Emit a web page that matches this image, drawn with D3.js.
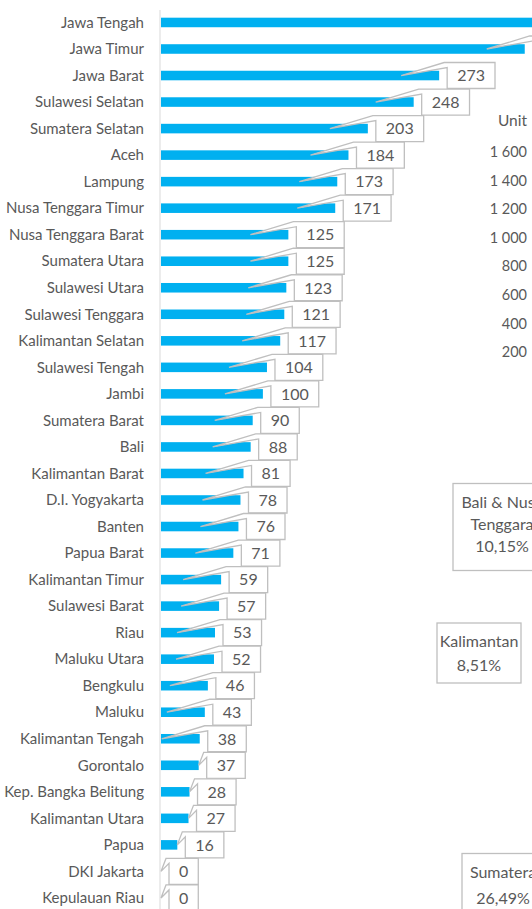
<!DOCTYPE html>
<html>
<head>
<meta charset="utf-8">
<script src="https://cdn.jsdelivr.net/npm/d3@7"></script>
<style>
  html, body { margin: 0; padding: 0; background: #fff; }
  svg { display: block; font-family: Lato, "Open Sans", sans-serif; }
</style>
</head>
<body>
<div id="chart"></div>
<script>
////////////////////////////////////////////////////////////////////////
// Data

let provinces = ["Jawa Tengah", "Jawa Timur", "Jawa Barat", "Sulawesi Selatan", "Sumatera Selatan",
  "Aceh", "Lampung", "Nusa Tenggara Timur", "Nusa Tenggara Barat", "Sumatera Utara",
  "Sulawesi Utara", "Sulawesi Tenggara", "Kalimantan Selatan", "Sulawesi Tengah", "Jambi",
  "Sumatera Barat", "Bali", "Kalimantan Barat", "D.I. Yogyakarta", "Banten", "Papua Barat",
  "Kalimantan Timur", "Sulawesi Barat", "Riau", "Maluku Utara", "Bengkulu", "Maluku",
  "Kalimantan Tengah", "Gorontalo", "Kep. Bangka Belitung", "Kalimantan Utara", "Papua",
  "DKI Jakarta", "Kepulauan Riau"];

let units = [419, 357, 273, 248, 203, 184, 173, 171, 125, 125, 123, 121, 117, 104, 100,
  90, 88, 81, 78, 76, 71, 59, 57, 53, 52, 46, 43, 38, 37, 28, 27, 16, 0, 0];

// right-hand chart (mostly outside the picture)
let unitTicks = [200, 400, 600, 800, 1000, 1200, 1400, 1600];
let regionLabels = [["Bali & Nusa", "Tenggara", "10,15%"], ["Kalimantan", "8,51%"], ["Sumatera", "26,49%"]];

let data = provinces.map(function(p, i) { return { name: p, value: units[i] }; });

////////////////////////////////////////////////////////////////////////
// Setup

let width = 532, height = 909;
let textColor = "#595959";
let boxStroke = "#BFBFBF";
let barColor = "#00B0F0";

let svg = d3.select("#chart").append("svg")
  .attr("width", width)
  .attr("height", height);

let xScale = d3.scaleLinear().domain([0, 450]).range([161, 619.5]);
let yScale = d3.scaleBand().domain(provinces).range([9.2, 911.2])
  .paddingInner(0.64).paddingOuter(0.32);

function mid(d) { return yScale(d.name) + yScale.bandwidth() / 2; }

////////////////////////////////////////////////////////////////////////
// Category labels + axis line

svg.append("g").selectAll("text")
  .data(data)
  .enter()
  .append("text")
  .attr("x", 144)
  .attr("y", mid)
  .attr("dy", "0.35em")
  .attr("text-anchor", "end")
  .attr("font-size", 15)
  .attr("fill", textColor)
  .text(function(d) { return d.name; });

svg.append("line")
  .attr("x1", 160).attr("x2", 160)
  .attr("y1", 10).attr("y2", height)
  .attr("stroke", "#D9D9D9")
  .attr("stroke-width", 1);

////////////////////////////////////////////////////////////////////////
// Bars

svg.append("g").selectAll("rect")
  .data(data)
  .enter()
  .append("rect")
  .attr("x", xScale(0))
  .attr("y", function(d) { return yScale(d.name); })
  .attr("width", function(d) { return xScale(d.value) - xScale(0); })
  .attr("height", yScale.bandwidth())
  .attr("fill", barColor);

////////////////////////////////////////////////////////////////////////
// Callout value labels (box + wedge pointing to the bar)

let measure = svg.append("text").attr("font-size", 16).attr("visibility", "hidden");

let callouts = svg.append("g").selectAll("g")
  .data(data)
  .enter()
  .append("g");

callouts.append("path")
  .attr("fill", "#fff")
  .attr("stroke", boxStroke)
  .attr("stroke-width", 1.3)
  .attr("d", function(d) {
    let end = xScale(d.value);
    let tipX = (end - 38 >= xScale(0)) ? end - 38 : end;
    let tipY = mid(d);
    measure.text(d.value);
    let w = measure.node().getComputedTextLength() + 20;
    let L = end + 8, T = tipY - 13, B = tipY + 13;
    d.boxX = L + w / 2;
    return "M" + tipX + "," + tipY + "L" + (L - 3) + "," + T + "H" + (L + w) +
      "V" + B + "H" + L + "V" + (T + 5) + "Z";
  });

callouts.append("text")
  .attr("x", function(d) { return d.boxX; })
  .attr("y", mid)
  .attr("dy", "0.36em")
  .attr("text-anchor", "middle")
  .attr("font-size", 16)
  .attr("fill", textColor)
  .text(function(d) { return d.value; });

measure.remove();

////////////////////////////////////////////////////////////////////////
// Right chart: unit axis

let idLocale = d3.formatLocale({ decimal: ",", thousands: " ", grouping: [3], currency: ["Rp", ""] });
let unitScale = d3.scaleLinear().domain([0, 1600]).range([380.6, 152]);

svg.append("text")
  .attr("x", 527).attr("y", 121)
  .attr("dy", "0.35em")
  .attr("text-anchor", "end")
  .attr("font-size", 15.5)
  .attr("fill", textColor)
  .text("Unit");

let unitAxis = svg.append("g")
  .attr("transform", "translate(527,0)")
  .call(d3.axisLeft(unitScale).tickValues(unitTicks).tickSize(0).tickPadding(0)
    .tickFormat(idLocale.format(",")));
unitAxis.select(".domain").remove();
unitAxis.selectAll("text")
  .attr("font-size", 14.5)
  .attr("font-family", "Lato, sans-serif")
  .attr("fill", textColor);

////////////////////////////////////////////////////////////////////////
// Right chart: region share labels (the pie itself is off to the right)

let regionBoxes = [
  { x: 453, y: 483.5, w: 98, h: 87, gap: 22, shift: -3 },
  { x: 437, y: 623, w: 84, h: 60, gap: 24, shift: 0 },
  { x: 462, y: 853.5, w: 82, h: 64, gap: 26, shift: 0 }
];

let regions = svg.append("g").selectAll("g")
  .data(regionLabels)
  .enter()
  .append("g")
  .attr("transform", function(d, i) { return "translate(" + regionBoxes[i].x + "," + regionBoxes[i].y + ")"; });

regions.append("rect")
  .attr("width", function(d, i) { return regionBoxes[i].w; })
  .attr("height", function(d, i) { return regionBoxes[i].h; })
  .attr("fill", "#fff")
  .attr("stroke", boxStroke)
  .attr("stroke-width", 1.3);

regions.each(function(lines, i) {
  let b = regionBoxes[i];
  let top = b.h / 2 - (lines.length - 1) * b.gap / 2 + b.shift;
  d3.select(this).selectAll("text")
    .data(lines)
    .enter()
    .append("text")
    .attr("x", b.w / 2)
    .attr("y", function(l, j) { return top + j * b.gap; })
    .attr("dy", "0.36em")
    .attr("text-anchor", "middle")
    .attr("font-size", 16)
    .attr("fill", textColor)
    .text(function(l) { return l; });
});
</script>
</body>
</html>
